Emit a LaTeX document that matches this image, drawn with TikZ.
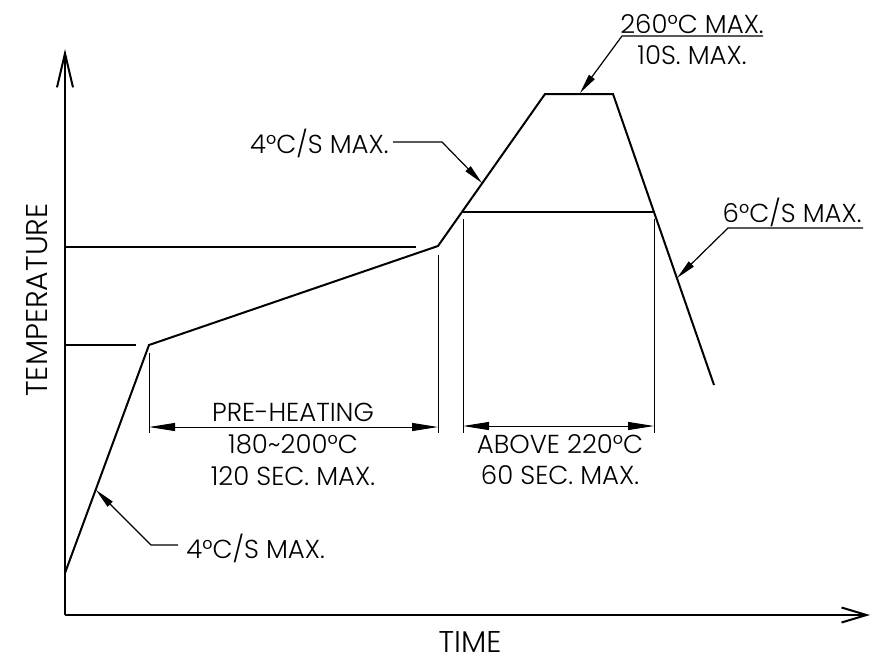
\documentclass[tikz,border=0pt]{standalone}
\usepackage{fontspec}
\setmainfont{Poppins}[UprightFont=* Light]
\usetikzlibrary{arrows.meta}

\begin{document}
\begin{tikzpicture}[x=0.5pt,y=-0.5pt]
            \tikzstyle{every node}+=[inner sep=0pt]
            \tikzstyle{lbl}=[font=\fontsize{13}{15}\selectfont]
            \tikzstyle{axlbl}=[font=\fontsize{15}{18}\selectfont]
            \tikzstyle{profile}=[line width=1pt, line join=miter]
            \tikzstyle{extline}=[line width=0.5pt]
            \tikzstyle{leader}=[line width=0.6pt, -{Triangle[length=10pt,width=3.5pt]}]
            \tikzstyle{dimline}=[line width=0.5pt, {Triangle[length=13pt,width=4pt]}-{Triangle[length=13pt,width=4pt]}]
            \useasboundingbox (0,0) rectangle (872,660);
            % axes
            \coordinate (o) at (65,615);
            \coordinate (ytip) at (65,49);
            \coordinate (xtip) at (870,615);
            \draw [line width=1pt, -{Straight Barb[length=17pt,width=8pt]}] (o) -- (ytip);
            \draw [line width=1pt, -{Straight Barb[length=12.5pt,width=7.5pt]}] (o) -- (xtip);
            \node [axlbl, anchor=base] (time) at (470,652) {TIME};
            \node [axlbl, anchor=base, rotate=90] (temp) at (47,300) {TEMPERATURE};
            % profile
            \coordinate (s0) at (65,573);
            \coordinate (p1) at (149,345);
            \coordinate (p2) at (438,246);
            \coordinate (p3) at (463,212);
            \coordinate (k1) at (545,94);
            \coordinate (k2) at (613,94);
            \coordinate (p4) at (654,212);
            \coordinate (e) at (714,385);
            \draw [profile] (s0) -- (p1) -- (p2) -- (k1) -- (k2) -- (e);
            % temperature levels
            \draw [profile] (65,345) -- (136,345);
            \draw [profile] (65,247) -- (416,247);
            \draw [profile] (p3) -- (p4);
            % extension lines
            \draw [extline] (149,353) -- (149,433);
            \draw [extline] (438,255) -- (438,433);
            \draw [extline] (463,219) -- (463,433);
            \draw [extline] (654,219) -- (654,433);
            % dimensions
            \draw [dimline] (149,427) -- (438,427);
            \draw [dimline] (463,426) -- (654,426);
            \node [lbl, anchor=base] (ph1) at (293,421) {PRE-HEATING};
            \node [lbl, anchor=base] (ph2) at (293,453) {180\textasciitilde 200°C};
            \node [lbl, anchor=base] (ph3) at (293,485) {120 SEC. MAX.};
            \node [lbl, anchor=base] (ab1) at (560,453) {ABOVE 220°C};
            \node [lbl, anchor=base] (ab2) at (560,484) {60 SEC. MAX.};
            % leaders
            \node [lbl, anchor=base west] (rate1) at (186,558) {4°C/S MAX.};
            \coordinate (r1a) at (178,545);
            \coordinate (r1b) at (151,545);
            \coordinate (r1c) at (96,490);
            \draw [leader] (r1a) -- (r1b) -- (r1c);
            \node [lbl, anchor=base east] (rate2) at (389,153) {4°C/S MAX.};
            \coordinate (r2a) at (393,142);
            \coordinate (r2b) at (442,142);
            \coordinate (r2c) at (482,183);
            \draw [leader] (r2a) -- (r2b) -- (r2c);
            \node [lbl, anchor=base] (pk1) at (692,33) {260°C MAX.};
            \node [lbl, anchor=base] (pk2) at (692,64) {10S. MAX.};
            \coordinate (r3a) at (763,36);
            \coordinate (r3b) at (622,36);
            \coordinate (r3c) at (580,93);
            \draw [leader] (r3a) -- (r3b) -- (r3c);
            \node [lbl, anchor=base east] (rate3) at (862,222) {6°C/S MAX.};
            \coordinate (r4a) at (863,228);
            \coordinate (r4b) at (728,228);
            \coordinate (r4c) at (677,278);
            \draw [leader] (r4a) -- (r4b) -- (r4c);
\end{tikzpicture}
\end{document}
